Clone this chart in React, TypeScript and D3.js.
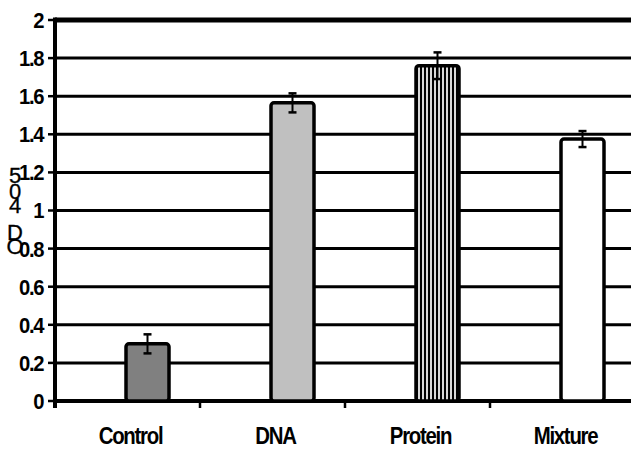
import React from "react";
import * as d3 from "d3";

const categories = ["Control", "DNA", "Protein", "Mixture"];
const values = [0.3, 1.565, 1.76, 1.375];
const errors = [0.05, 0.05, 0.07, 0.042];
const yTicks = [0, 0.2, 0.4, 0.6, 0.8, 1, 1.2, 1.4, 1.6, 1.8, 2];
const yTitleChars = ["5", "0", "4", "D", "O"];

const W = 631;
const H = 449;
const M = { left: 55, top: 20, bottom: 48, right: -4 };

export default function App() {
  const x = d3.scaleBand<string>().domain(categories).range([M.left, W - M.right]).padding(0);
  const y = d3.scaleLinear().domain([0, 2]).range([H - M.bottom, M.top]);
  const bw = 43;
  const barOffset = 20;
  const font = "Arimo, 'Liberation Sans', Arial, sans-serif";
  const fills = ["#808080", "#c0c0c0", "url(#stripes)", "#ffffff"];
  const y0 = y(0);
  const titleY = [183, 199, 213, 240, 254];
  return (
    <div style={{ position: "fixed", left: 0, top: 0 }}>
      <svg width={W} height={H} style={{ display: "block", background: "#fff" }}>
        <defs>
          <pattern id="stripes" width={4} height={10} patternUnits="userSpaceOnUse" x={0}>
            <rect width={4} height={10} fill="#d8d8d8" />
            <rect width={2} height={10} fill="#000" />
          </pattern>
        </defs>
        {yTicks.map((t) => (
          <g key={t}>
            <line x1={M.left} x2={W} y1={y(t)} y2={y(t)} stroke="#000" strokeWidth={t === 2 ? 5 : t === 0 ? 4 : 3} />
            <line x1={M.left - 7} x2={M.left} y1={y(t)} y2={y(t)} stroke="#000" strokeWidth={2.5} />
            <text
              transform={`translate(43,${y(t)}) scale(0.92,1)`}
              dy="0.36em"
              textAnchor="end"
              fontFamily={font}
              fontWeight="bold"
              fontSize={22}
              letterSpacing={-1.5}
            >
              {String(t)}
            </text>
          </g>
        ))}
        <line x1={M.left} x2={M.left} y1={M.top - 2.5} y2={y0 + 7} stroke="#000" strokeWidth={4} />
        {categories.slice(1).map((c) => (
          <line key={c} x1={x(c)!} x2={x(c)!} y1={y0} y2={y0 + 7} stroke="#000" strokeWidth={2.5} />
        ))}
        {categories.map((c, i) => {
          const cx = x(c)! + x.bandwidth() / 2 + barOffset;
          const lx = x(c)! + x.bandwidth() / 2 + 3;
          return (
            <g key={c}>
              <rect
                x={cx - bw / 2}
                y={y(values[i])}
                width={bw}
                height={y0 - y(values[i])}
                fill={fills[i]}
                stroke="#000"
                strokeWidth={3.5}
                rx={3}
              />
              <line x1={cx} x2={cx} y1={y(values[i] + errors[i])} y2={y(values[i] - errors[i])} stroke="#000" strokeWidth={2} />
              <line x1={cx - 4} x2={cx + 4} y1={y(values[i] + errors[i])} y2={y(values[i] + errors[i])} stroke="#000" strokeWidth={2.5} />
              <line x1={cx - 4} x2={cx + 4} y1={y(values[i] - errors[i])} y2={y(values[i] - errors[i])} stroke="#000" strokeWidth={2.5} />
              <text
                transform={`translate(${lx},${y0 + 43}) scale(0.85,1)`}
                textAnchor="middle"
                fontFamily={font}
                fontWeight="bold"
                fontSize={24}
                letterSpacing={-1.5}
              >
                {c}
              </text>
            </g>
          );
        })}
        {yTitleChars.map((ch, i) => (
          <text key={i} x={15} y={titleY[i]} textAnchor="middle" fontFamily={font} fontSize={22} stroke="#000" strokeWidth={0.3}>
            {ch}
          </text>
        ))}
      </svg>
    </div>
  );
}
